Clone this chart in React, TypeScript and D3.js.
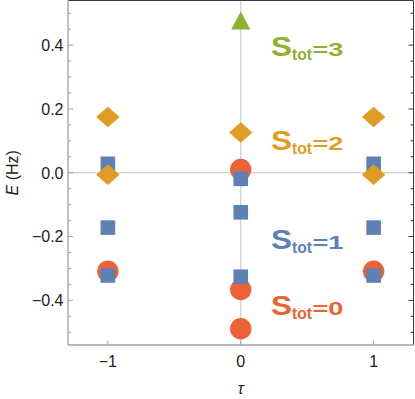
import * as d3 from 'd3'

const W = 415
const H = 399
const FRAME = { left: 68, right: 413.5, top: 0.5, bottom: 345 }

// tau / energy (Hz) per total spin
const s0Tau = [-1, 0, 0, 0, 1]
const s0E = [-0.309, 0.01, -0.366, -0.489, -0.309]
const s1Tau = [-1, -1, -1, 0, 0, 0, 1, 1, 1]
const s1E = [0.028, -0.172, -0.322, -0.019, -0.124, -0.326, 0.028, -0.172, -0.322]
const s2Tau = [-1, -1, 0, 1, 1]
const s2E = [0.175, -0.006, 0.126, 0.175, -0.006]
const s3Tau = [0]
const s3E = [0.477]

const xTicks = [-1, 0, 1]
const yMajor = [-0.4, -0.2, 0, 0.2, 0.4]
const yMinor = d3.range(-0.5, 0.51, 0.05).map((v) => Math.round(v * 100) / 100)

const labelTau = 0.235
const labelE = [-0.446, -0.24, 0.07, 0.366]
const labelVal = ['0', '1', '2', '3']

const COLORS = ['#EB6235', '#5E81B5', '#E19C24', '#8FB032']
const FONT = '"Liberation Sans", Arial, sans-serif'

const fmt = (v: number, d: number) => {
  const s = Math.abs(v).toFixed(d)
  return v < -1e-9 ? '\u2212' + s : s
}

export default function App() {
  const x = d3.scaleLinear().domain([-1.3, 1.3]).range([FRAME.left, FRAME.right])
  const y = d3.scaleLinear().domain([-0.54, 0.54]).range([FRAME.bottom, FRAME.top])

  const circle = (cx: number, cy: number) => <circle cx={cx} cy={cy} r={10.7} />
  const square = (cx: number, cy: number) => (
    <rect x={cx - 7.3} y={cy - 7.3} width={14.6} height={14.6} />
  )
  const diamond = (cx: number, cy: number) => (
    <path d={`M${cx - 11.7},${cy}L${cx},${cy - 10.3}L${cx + 11.7},${cy}L${cx},${cy + 10.3}Z`} />
  )
  const triangle = (cx: number, cy: number) => (
    <path d={`M${cx},${cy - 9}L${cx + 9.6},${cy + 9}L${cx - 9.6},${cy + 9}Z`} />
  )

  const series = [
    { tau: s0Tau, e: s0E, mark: circle },
    { tau: s1Tau, e: s1E, mark: square },
    { tau: s2Tau, e: s2E, mark: diamond },
    { tau: s3Tau, e: s3E, mark: triangle },
  ]

  const gray = '#a0a0a0'
  const dark = '#3a3a3a'

  return (
    <div style={{ position: 'absolute', left: 0, top: 0 }}>
      <svg width={W} height={H} style={{ display: 'block', background: '#fff' }} fontFamily={FONT}>
        {/* axes through origin */}
        <line x1={x(0)} x2={x(0)} y1={FRAME.top} y2={FRAME.bottom} stroke="#c4c4c4" />
        <line x1={FRAME.left} x2={FRAME.right} y1={y(0)} y2={y(0)} stroke="#c4c4c4" />

        {/* frame */}
        <line x1={FRAME.left} x2={FRAME.right} y1={FRAME.top} y2={FRAME.top} stroke={dark} />
        <line x1={FRAME.right} x2={FRAME.right} y1={FRAME.top} y2={FRAME.bottom} stroke={dark} />
        <line x1={FRAME.left} x2={FRAME.left} y1={FRAME.top} y2={FRAME.bottom} stroke={gray} strokeWidth={1.3} />
        <line x1={FRAME.left} x2={FRAME.right} y1={FRAME.bottom} y2={FRAME.bottom} stroke={gray} strokeWidth={1.3} />

        {/* y ticks */}
        {yMinor.map((v) => {
          const major = yMajor.some((m) => Math.abs(m - v) < 1e-6)
          const len = major ? 5 : 3
          return (
            <g key={'yt' + v}>
              <line x1={FRAME.left} x2={FRAME.left + len} y1={y(v)} y2={y(v)} stroke={gray} />
              <line x1={FRAME.right} x2={FRAME.right - len} y1={y(v)} y2={y(v)} stroke={dark} />
            </g>
          )
        })}
        {yMajor.map((v) => (
          <text key={'yl' + v} x={63.5} y={y(v) + 5.8} textAnchor="end" fontSize={16} fill="#222">
            {fmt(v, 1)}
          </text>
        ))}

        {/* x ticks */}
        {xTicks.map((v) => (
          <g key={'xt' + v}>
            <line x1={x(v)} x2={x(v)} y1={FRAME.bottom} y2={FRAME.bottom - 4.5} stroke={gray} />
            <text x={x(v)} y={367} textAnchor="middle" fontSize={16} fill="#222">
              {fmt(v, 0)}
            </text>
          </g>
        ))}

        {/* axis labels */}
        <text x={x(0)} y={394} textAnchor="middle" fontSize={16} fontStyle="italic" fill="#222">
          τ
        </text>
        <text
          transform={`translate(17.5,${(FRAME.top + FRAME.bottom) / 2}) rotate(-90)`}
          textAnchor="middle"
          fontSize={16}
          fill="#222"
        >
          <tspan fontStyle="italic">E</tspan> (Hz)
        </text>

        {/* points */}
        {series.map((s, i) => (
          <g key={'s' + i} fill={COLORS[i]}>
            {s.tau.map((t, j) => (
              <g key={j}>{s.mark(x(t), y(s.e[j]))}</g>
            ))}
          </g>
        ))}

        {/* S_tot labels */}
        {labelE.map((e, i) => {
          const lx = x(labelTau)
          const ly = y(e)
          return (
            <g key={'lab' + i} fill={COLORS[i]} fontWeight="bold">
              <text x={lx - 1} y={ly} fontSize={28} textLength={21} lengthAdjust="spacingAndGlyphs">
                S
              </text>
              <text x={lx + 20} y={ly + 3.5} fontSize={16} textLength={20} lengthAdjust="spacingAndGlyphs">
                tot
              </text>
              <text x={lx + 40.5} y={ly} fontSize={19} textLength={31} lengthAdjust="spacingAndGlyphs">
                ={labelVal[i]}
              </text>
            </g>
          )
        })}
      </svg>
    </div>
  )
}
